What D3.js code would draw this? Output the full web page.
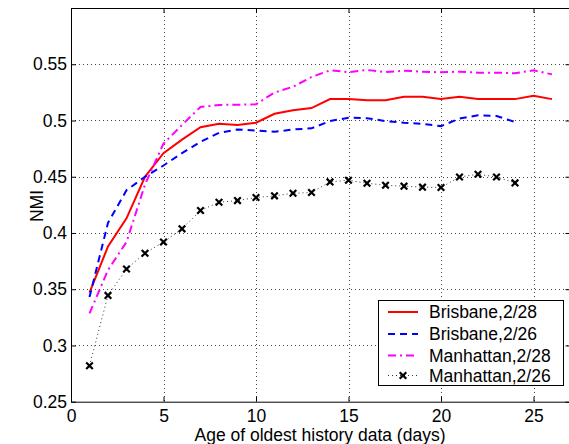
<!DOCTYPE html>
<html>
<head>
<meta charset="utf-8">
<script src="https://cdn.jsdelivr.net/npm/d3@7"></script>
<style>
body { margin: 0; background: #fff; }
svg { display: block; font-family: "Liberation Sans", Arial, sans-serif; }
</style>
</head>
<body>
<script>
var w = 569;
var h = 444;

// data
var days = [1,2,3,4,5,6,7,8,9,10,11,12,13,14,15,16,17,18,19,20,21,22,23,24,25,26];
var brisbane28 = [0.347,0.388,0.413,0.450,0.471,0.483,0.494,0.497,0.496,0.498,0.506,0.509,0.511,0.519,0.519,0.518,0.518,0.521,0.521,0.519,0.521,0.519,0.519,0.519,0.522,0.519];
var brisbane26 = [0.343,0.409,0.438,0.450,0.460,0.471,0.481,0.489,0.492,0.491,0.490,0.492,0.493,0.4995,0.5025,0.502,0.4995,0.498,0.497,0.495,0.5017,0.5046,0.504,0.4987];
var manhattan28 = [0.3285,0.367,0.392,0.443,0.4795,0.496,0.512,0.5138,0.514,0.5144,0.5248,0.530,0.5386,0.5446,0.543,0.5449,0.543,0.5443,0.5434,0.5428,0.5434,0.5425,0.5425,0.542,0.5446,0.541];
var manhattan26 = [0.282,0.3445,0.368,0.382,0.392,0.4037,0.420,0.4273,0.4288,0.4315,0.433,0.4353,0.436,0.4454,0.4469,0.4442,0.4424,0.4416,0.4407,0.4404,0.4498,0.4522,0.4498,0.4445];
var seriesNames = ["Brisbane,2/28", "Brisbane,2/26", "Manhattan,2/28", "Manhattan,2/26"];
var xTicks = [0,5,10,15,20,25];
var yTicks = [0.25,0.3,0.35,0.4,0.45,0.5,0.55];

var padLeft = 71, padTop = 8, padBottom = 401.7;
var x = d3.scaleLinear().domain([0, 27]).range([padLeft, padLeft + 27 * 18.5]);
var y = d3.scaleLinear().domain([0.25, 0.6]).range([padBottom, padTop]);

var svg = d3.select("body").append("svg")
	.attr("width", w)
	.attr("height", h);

// dotted grid
var grid = svg.append("g").attr("stroke", "#444").attr("stroke-width", 1).attr("stroke-dasharray", "1,3");
grid.selectAll("line.vx")
	.data(xTicks.slice(1)).enter().append("line")
	.attr("x1", function(d) { return Math.round(x(d)) + 0.5; })
	.attr("x2", function(d) { return Math.round(x(d)) + 0.5; })
	.attr("y1", y(0.6)).attr("y2", y(0.25));
grid.selectAll("line.hy")
	.data(yTicks.slice(1)).enter().append("line")
	.attr("y1", function(d) { return Math.round(y(d)) + 0.5; })
	.attr("y2", function(d) { return Math.round(y(d)) + 0.5; })
	.attr("x1", x(0)).attr("x2", x(27));

var series = [
	{ vals: brisbane28, color: "#ff0000", dash: null, width: 2 },
	{ vals: brisbane26, color: "#0000ff", dash: "7,5", width: 2 },
	{ vals: manhattan28, color: "#ff00ff", dash: "8,4,2,4", width: 2 },
	{ vals: manhattan26, color: "#333", dash: "1,3", width: 1 }
];

var line = d3.line()
	.x(function(d, i) { return x(days[i]); })
	.y(function(d) { return y(d); });

series.forEach(function(s) {
	svg.append("path")
		.attr("d", line(s.vals))
		.attr("fill", "none")
		.attr("stroke", s.color)
		.attr("stroke-width", s.width)
		.attr("stroke-dasharray", s.dash);
});

var marker = d3.symbol().type(d3.symbolX).size(30);
svg.selectAll("path.mk")
	.data(manhattan26).enter().append("path")
	.attr("class", "mk")
	.attr("d", marker)
	.attr("transform", function(d, i) { return "translate(" + x(days[i]) + "," + y(d) + ")"; })
	.attr("fill", "none")
	.attr("stroke", "#000")
	.attr("stroke-width", 2.2);

// axes with inward ticks
function styleAxis(g) {
	g.selectAll("path.domain").attr("stroke", "#000").attr("stroke-width", 1);
	g.selectAll(".tick line").attr("stroke", "#000");
	g.selectAll("text").attr("fill", "#000").style("font-size", "17.5px")
		.style("font-family", "'Liberation Sans', Arial, sans-serif");
}
svg.append("g")
	.attr("transform", "translate(0," + padBottom + ")")
	.call(d3.axisBottom(x).tickValues(xTicks).tickSizeInner(-5).tickSizeOuter(0).tickPadding(8))
	.call(styleAxis);
svg.append("g")
	.attr("transform", "translate(0," + padTop + ")")
	.call(d3.axisTop(x).tickValues(xTicks).tickSizeInner(-5).tickSizeOuter(0).tickFormat(""))
	.call(styleAxis);
svg.append("g")
	.attr("transform", "translate(" + padLeft + ",0)")
	.call(d3.axisLeft(y).tickValues(yTicks).tickSizeInner(-5).tickSizeOuter(0).tickPadding(4).tickFormat(function(d) { return String(+d.toFixed(2)); }))
	.call(styleAxis);
svg.append("g")
	.attr("transform", "translate(" + x(27) + ",0)")
	.call(d3.axisRight(y).tickValues(yTicks).tickSizeInner(-5).tickSizeOuter(0).tickFormat(""))
	.call(styleAxis);

// axis titles
svg.append("text")
	.attr("x", 320).attr("y", 441)
	.attr("text-anchor", "middle")
	.style("font-size", "17.5px")
	.text("Age of oldest history data (days)");
svg.append("text")
	.attr("transform", "translate(42.5,206) rotate(-90)")
	.attr("text-anchor", "middle")
	.style("font-size", "17.5px")
	.text("NMI");

// legend
var legend = svg.append("g");
legend.append("rect")
	.attr("x", 378.5).attr("y", 300.5)
	.attr("width", 185).attr("height", 85)
	.attr("fill", "#fff").attr("stroke", "#000").attr("stroke-width", 1);
var rowY = [312, 334, 355.5, 375.5];
seriesNames.forEach(function(name, i) {
	var s = series[i];
	legend.append("line")
		.attr("x1", 388).attr("x2", 418)
		.attr("y1", rowY[i]).attr("y2", rowY[i])
		.attr("stroke", s.color)
		.attr("stroke-width", s.width)
		.attr("stroke-dasharray", s.dash);
	if (i == 3) {
		legend.append("path")
			.attr("d", marker)
			.attr("transform", "translate(403," + rowY[i] + ")")
			.attr("fill", "none").attr("stroke", "#000").attr("stroke-width", 2.2);
	}
	legend.append("text")
		.attr("x", 429).attr("y", rowY[i])
		.attr("dy", "0.35em")
		.style("font-size", "17.5px")
		.text(name);
});
</script>
</body>
</html>
